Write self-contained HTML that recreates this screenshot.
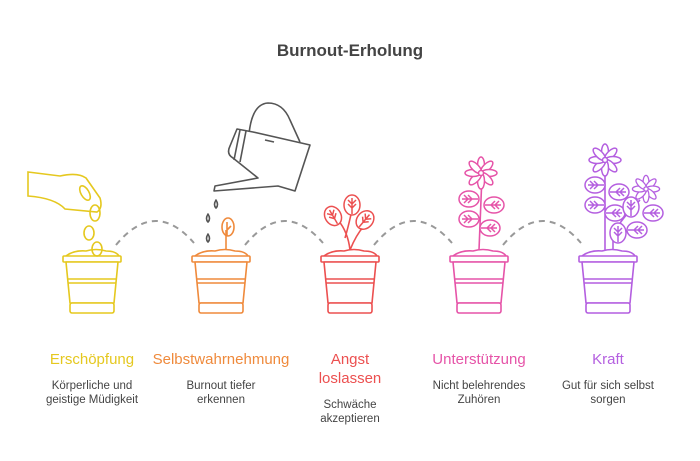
<!DOCTYPE html>
<html><head><meta charset="utf-8"><style>
body{margin:0;background:#fff;}
svg{display:block;font-family:"Liberation Sans",sans-serif;}
</style></head><body>
<svg width="700" height="461" viewBox="0 0 700 461" xmlns="http://www.w3.org/2000/svg">
<defs>
<g id="pot" fill="#fff" stroke-width="1.6" stroke-linejoin="round">
 <path d="M-26,256 Q-18,250 -6,251 Q4,248 14,251 Q24,251 27,256" fill="none"/>
 <rect x="-29" y="256" width="58" height="6" rx="1"/>
 <path d="M-26,262 L26,262 L22,303 L-22,303 Z"/>
 <line x1="-24" y1="279" x2="24" y2="279"/>
 <line x1="-24" y1="283" x2="24" y2="283"/>
 <rect x="-22" y="303" width="44" height="10" rx="2"/>
</g>
<g id="leaf" fill="#fff" stroke-width="1.5">
 <ellipse cx="0" cy="0" rx="10" ry="8"/>
 <path d="M-9,0 L7,0 M1,0 L5,-4 M1,0 L5,4 M-3,0 L1,-4 M-3,0 L1,4" fill="none"/>
</g>
<g id="flower" fill="#fff" stroke-width="1.5">
 <g id="pet"><ellipse cx="0" cy="-8" rx="3.5" ry="8"/></g>
 <use href="#pet" transform="rotate(45)"/><use href="#pet" transform="rotate(90)"/><use href="#pet" transform="rotate(135)"/>
 <use href="#pet" transform="rotate(180)"/><use href="#pet" transform="rotate(225)"/><use href="#pet" transform="rotate(270)"/><use href="#pet" transform="rotate(315)"/>
 <circle r="2.5"/>
</g>
</defs>

<text x="350" y="56" text-anchor="middle" font-size="17" font-weight="bold" fill="#444">Burnout-Erholung</text>

<g fill="none" stroke="#999" stroke-width="2" stroke-dasharray="6,5">
 <path d="M116,245 Q155,198 194,243"/>
 <path d="M245,245 Q284,198 323,243"/>
 <path d="M374,245 Q413,198 452,243"/>
 <path d="M503,245 Q542,198 581,243"/>
</g>

<g stroke="#e5c81f" fill="none" stroke-width="1.6">
 <use href="#pot" x="92"/>
 <path d="M28,172 L28,196 Q55,198 65,209 L97,212 Q103,208 100,198 L86,178 Q78,172 60,176 Z" fill="#fff"/>
 <ellipse cx="85" cy="193" rx="4" ry="8" transform="rotate(-30 85 193)"/>
 <ellipse cx="95" cy="213" rx="5" ry="8"/>
 <ellipse cx="89" cy="233" rx="5" ry="7"/>
 <ellipse cx="97" cy="249" rx="5" ry="7"/>
</g>

<g stroke="#555" fill="#fff" stroke-width="1.6" stroke-linejoin="round">
 <path d="M249,134 Q252,104 268,103 Q283,103 290,120 L300,142"/>
 <path d="M237,129 L253,132 L310,145 L295,191 L278,186 L214,191 L215,186 L258,178 L233,158 Q226,154 230,146 Z"/>
 <path d="M240,130 L234,160 M246,131 L240,162"/>
 <line x1="265" y1="140" x2="274" y2="142"/>
 <path d="M216,200 q3,5 0,8 q-3,-3 0,-8Z M208,214 q3,5 0,8 q-3,-3 0,-8Z M208,234 q3,5 0,8 q-3,-3 0,-8Z"/>
</g>

<g stroke="#ef8a3c" fill="none" stroke-width="1.6">
 <use href="#pot" x="221"/>
 <path d="M226,250 L226,230"/>
 <ellipse cx="228" cy="227" rx="6" ry="9"/>
 <path d="M227,236 L227,222 M227,230 L231,226"/>
</g>

<g stroke="#ec5050" fill="none" stroke-width="1.6">
 <use href="#pot" x="350"/>
 <path d="M350,250 Q348,232 338,220 M350,250 Q356,235 364,226 M345,238 Q348,228 352,210"/>
 <use href="#leaf" transform="translate(333,216) rotate(-120)"/>
 <use href="#leaf" transform="translate(365,220) rotate(-50)"/>
 <use href="#leaf" transform="translate(352,205) rotate(-90)"/>
</g>

<g stroke="#e654a8" fill="none" stroke-width="1.6">
 <use href="#pot" x="479"/>
 <path d="M479,250 L482,175"/>
 <use href="#leaf" transform="translate(469,199) rotate(180)"/>
 <use href="#leaf" transform="translate(494,205)"/>
 <use href="#leaf" transform="translate(469,219) rotate(180)"/>
 <use href="#leaf" transform="translate(490,228)"/>
 <use href="#flower" transform="translate(481,173)"/>
</g>

<g stroke="#b45fe0" fill="none" stroke-width="1.6">
 <use href="#pot" x="608"/>
 <path d="M605,250 L605,165 M613,250 L613,235 Q620,220 640,200"/>
 <use href="#leaf" transform="translate(595,185) rotate(180)"/>
 <use href="#leaf" transform="translate(619,192)"/>
 <use href="#leaf" transform="translate(595,205) rotate(180)"/>
 <use href="#leaf" transform="translate(615,213)"/>
 <use href="#leaf" transform="translate(631,207) rotate(-90)"/>
 <use href="#leaf" transform="translate(653,213)"/>
 <use href="#leaf" transform="translate(618,233) rotate(-90)"/>
 <use href="#leaf" transform="translate(637,230)"/>
 <use href="#flower" transform="translate(605,160)"/>
 <use href="#flower" transform="translate(646,189) scale(0.85)"/>
</g>

<g font-size="15" text-anchor="middle">
 <text x="92" y="364" fill="#e5c81f">Erschöpfung</text>
 <text x="221" y="364" fill="#ef8a3c">Selbstwahrnehmung</text>
 <text x="350" y="364" fill="#ec5050">Angst</text>
 <text x="350" y="383" fill="#ec5050">loslassen</text>
 <text x="479" y="364" fill="#e654a8">Unterstützung</text>
 <text x="608" y="364" fill="#b45fe0">Kraft</text>
</g>
<g font-size="11.5" text-anchor="middle" fill="#444">
 <text x="92" y="389">Körperliche und</text>
 <text x="92" y="403">geistige Müdigkeit</text>
 <text x="221" y="389">Burnout tiefer</text>
 <text x="221" y="403">erkennen</text>
 <text x="350" y="408">Schwäche</text>
 <text x="350" y="422">akzeptieren</text>
 <text x="479" y="389">Nicht belehrendes</text>
 <text x="479" y="403">Zuhören</text>
 <text x="608" y="389">Gut für sich selbst</text>
 <text x="608" y="403">sorgen</text>
</g>
</svg>
</body></html>
